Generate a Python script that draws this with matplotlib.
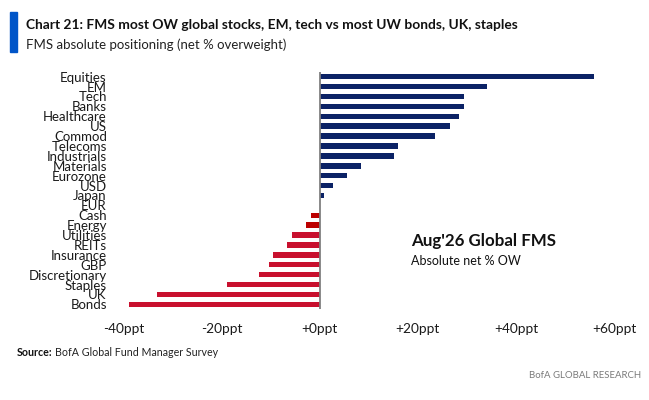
import matplotlib
matplotlib.use("Agg")
import matplotlib.pyplot as plt
from matplotlib import font_manager
from matplotlib.patches import Rectangle

# --- DATA ---
categories = ["Equities", "EM", "Tech", "Banks", "Healthcare", "US", "Commod",
              "Telecoms", "Industrials", "Materials", "Eurozone", "USD", "Japan",
              "EUR", "Cash", "Energy", "Utilities", "REITs", "Insurance", "GBP",
              "Discretionary", "Staples", "UK", "Bonds"]
values = [55.9, 34.1, 29.4, 29.4, 28.4, 26.5, 23.6, 16.0, 15.1, 8.4, 5.6, 2.7, 0.8,
          0, -1.8, -2.8, -5.6, -6.6, -9.5, -10.4, -12.3, -19.0, -33.2, -38.9]
x_ticks = [-40, -20, 0, 20, 40, 60]
x_tick_labels = ["-40ppt", "-20ppt", "+0ppt", "+20ppt", "+40ppt", "+60ppt"]
dark_red_items = ["Cash", "Energy"]

NAVY = "#0B2265"
RED = "#C8102E"
DARK_RED = "#BC0000"

installed = {f.name for f in font_manager.fontManager.ttflist}
BODY = "Lato" if "Lato" in installed else "DejaVu Sans"
NARROW = "Liberation Sans Narrow" if "Liberation Sans Narrow" in installed else BODY

W, H = 649, 400
fig = plt.figure(figsize=(W / 100, H / 100), dpi=100)
fig.patch.set_facecolor("white")

ax = fig.add_axes([123.5 / W, 1 - 309.3 / H, 490.5 / W, (309.3 - 71.75) / H])

colors = []
for cat, v in zip(categories, values):
    if v >= 0:
        colors.append(NAVY)
    elif cat in dark_red_items:
        colors.append(DARK_RED)
    else:
        colors.append(RED)

ypos = list(range(len(categories)))
ax.barh(ypos, values, height=0.55, color=colors, zorder=2)
ax.axvline(0, color="#808080", lw=1.3, zorder=3)

ax.set_xlim(-40, 60)
ax.set_ylim(len(categories) - 0.5, -0.5)
ax.set_yticks(ypos)
ax.set_yticklabels(categories, fontsize=9.5, family=BODY, color="#1a1a1a")
ax.set_xticks(x_ticks)
ax.set_xticklabels(x_tick_labels, fontsize=9.8, family=BODY, color="#1a1a1a")
ax.tick_params(axis="y", length=0, pad=12)
ax.tick_params(axis="x", length=0, pad=10)
for s in ax.spines.values():
    s.set_visible(False)

# annotation inside the plot
fig.text(411 / W, 1 - 241 / H, "Aug'26 Global FMS", fontsize=12.2, fontweight="bold",
         family=BODY, va="center", ha="left", color="#111111")
fig.text(411 / W, 1 - 261 / H, "Absolute net % OW", fontsize=9.0,
         family=BODY, va="center", ha="left", color="#111111")

# header
fig.patches.append(Rectangle((10 / W, 1 - 52 / H), 7 / W, 40 / H,
                             transform=fig.transFigure, color="#0055C8"))
fig.text(26 / W, 1 - 25 / H, "Chart 21: FMS most OW global stocks, EM, tech vs most UW bonds, UK, staples",
         fontsize=9.9, fontweight="bold", family=NARROW, va="center", ha="left", color="#111111")
fig.text(26 / W, 1 - 45 / H, "FMS absolute positioning (net % overweight)",
         fontsize=9.5, family=NARROW, va="center", ha="left", color="#222222")

# footer
src = fig.text(17 / W, 1 - 353 / H, "Source:", fontsize=7.7, fontweight="bold",
               family=NARROW, va="center", ha="left", color="#111111")
fig.canvas.draw()
bb = src.get_window_extent()
fig.text(bb.x1 / W + 2 / W, 1 - 353 / H, "BofA Global Fund Manager Survey", fontsize=7.7,
         family=NARROW, va="center", ha="left", color="#222222")
fig.text(641 / W, 1 - 375 / H, "BofA GLOBAL RESEARCH", fontsize=6.9,
         family=NARROW, va="center", ha="right", color="#7a7a7a")

fig.savefig("out.png", dpi=100)
